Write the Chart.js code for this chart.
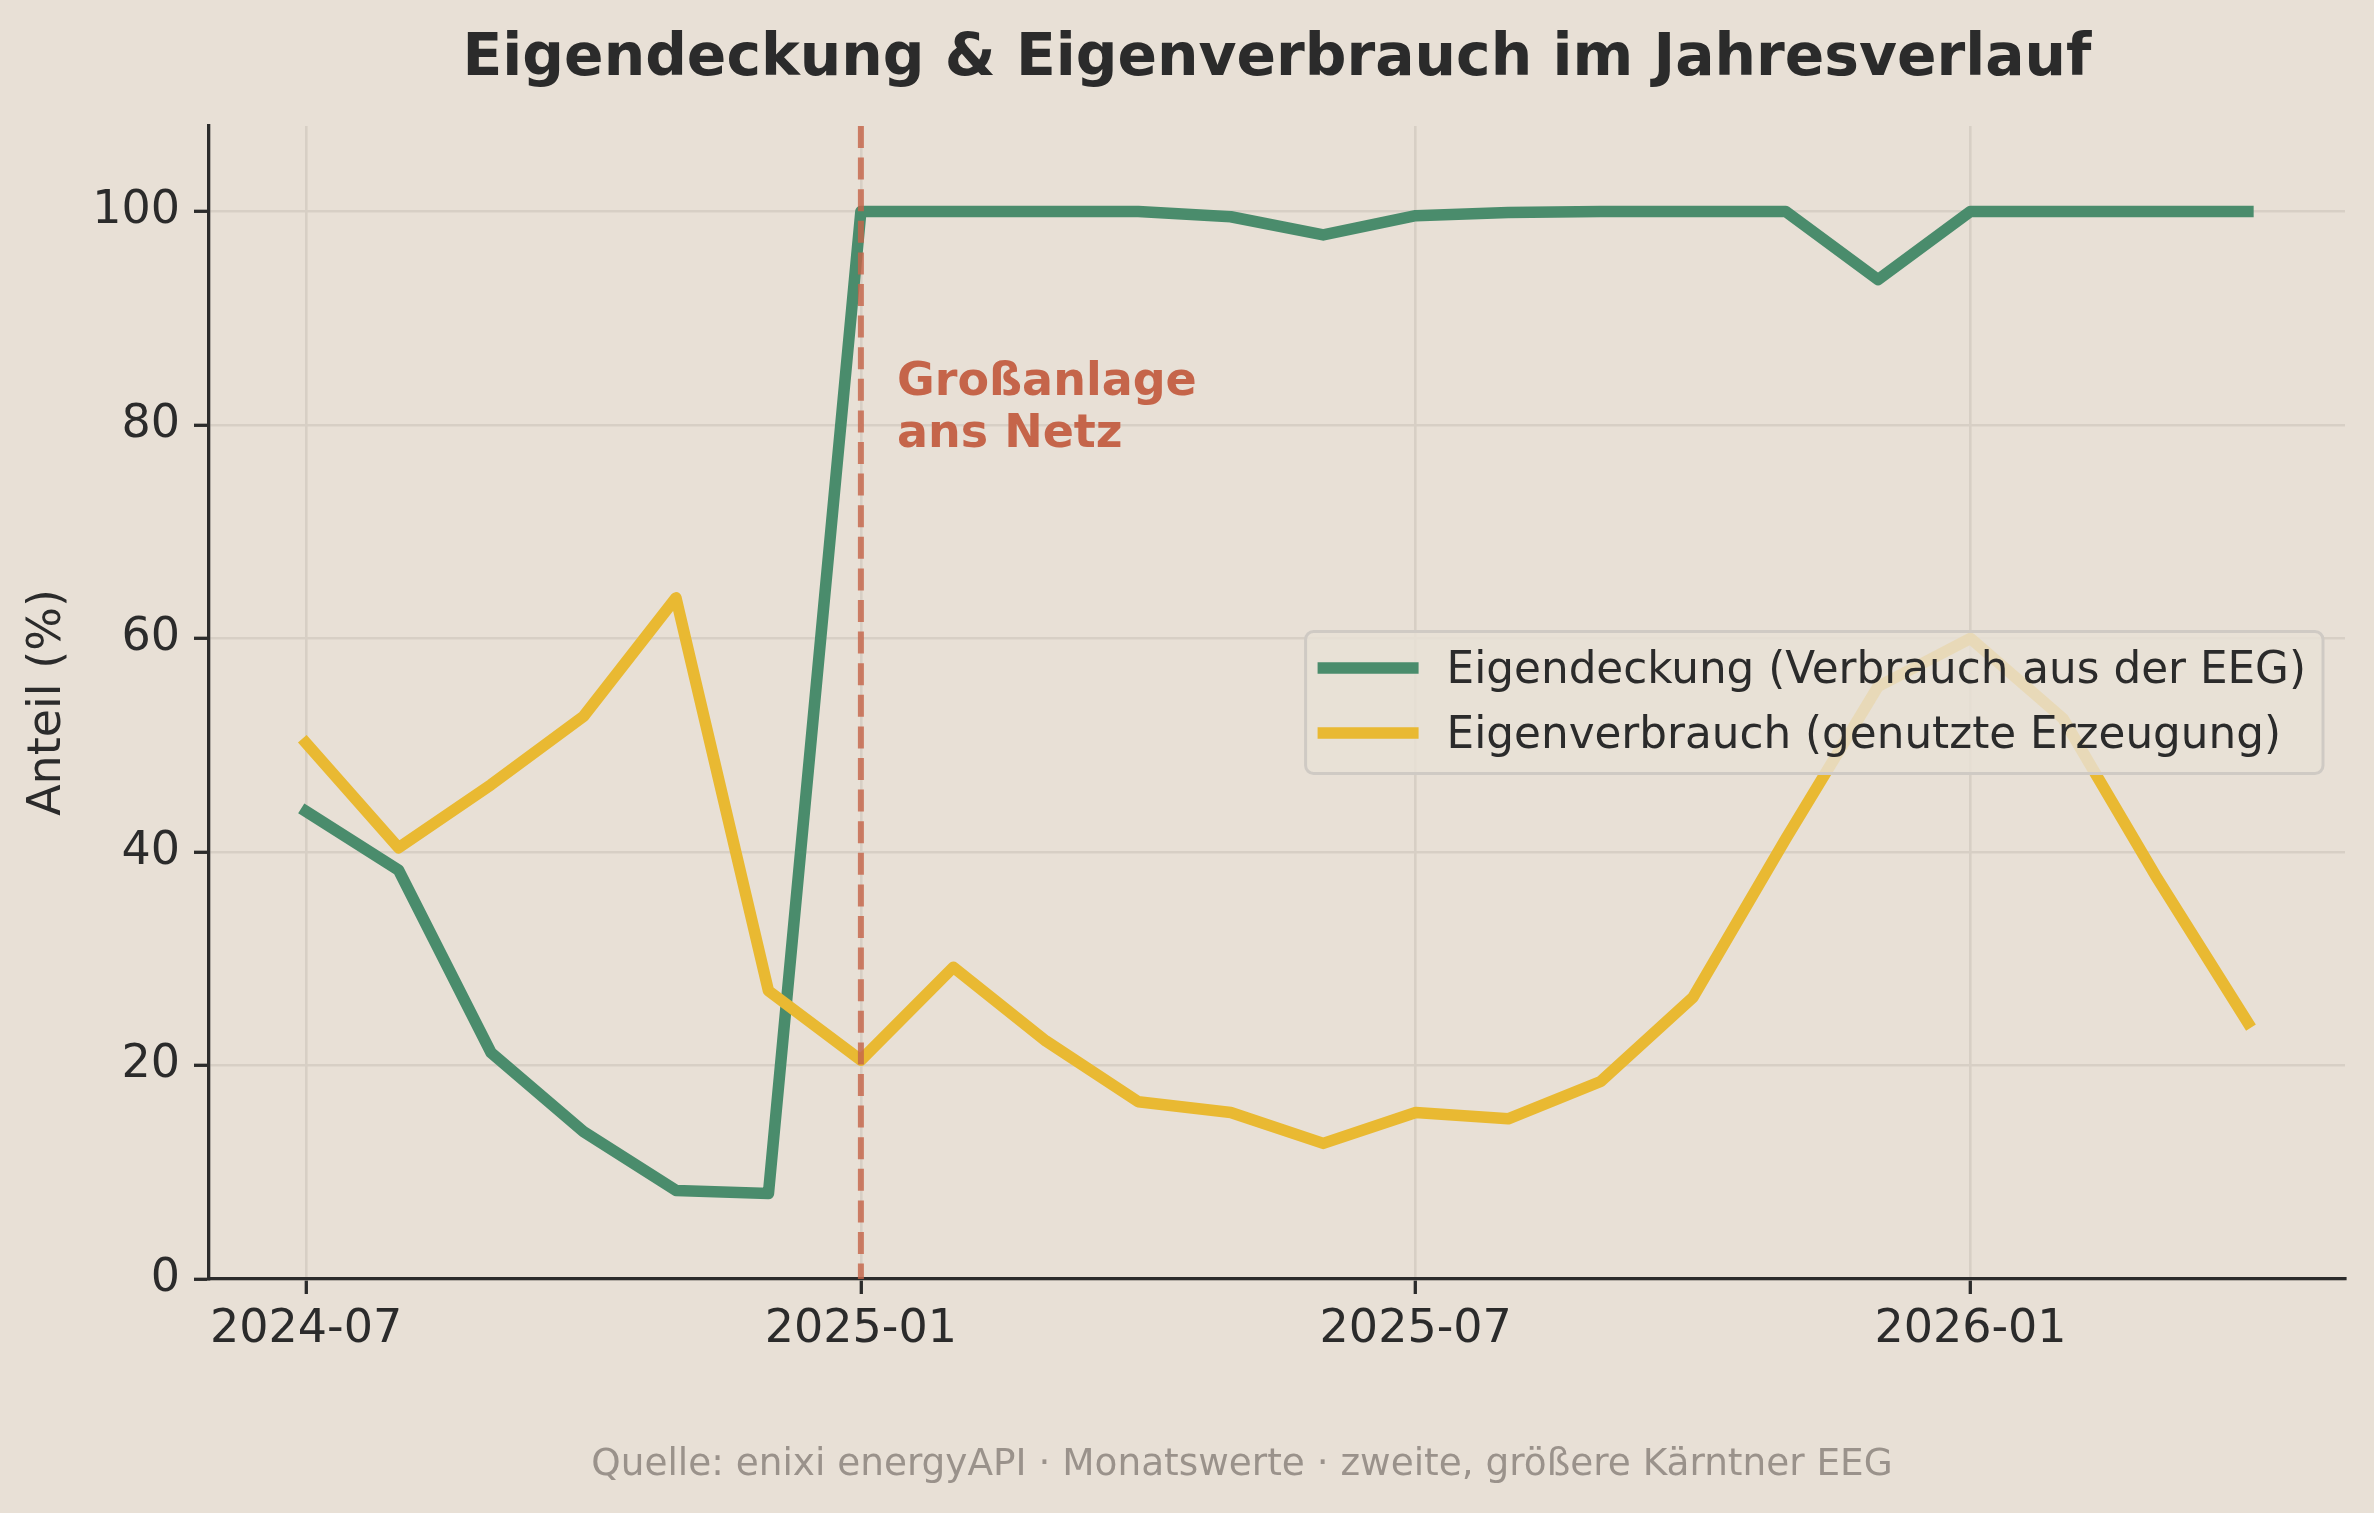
<!DOCTYPE html>
<html>
<head>
<meta charset="utf-8">
<script src="https://cdn.jsdelivr.net/npm/chart.js@4.4.1/dist/chart.umd.min.js"></script>
<style>
html,body{margin:0;padding:0;background:#e8e0d6;}
canvas{display:block;}
</style>
</head>
<body>
<canvas id="c" width="2374" height="1513" style="width:2374px;height:1513px"></canvas>
<script>
// ---------------- data ----------------
const months = ['2024-07','2024-08','2024-09','2024-10','2024-11','2024-12',
  '2025-01','2025-02','2025-03','2025-04','2025-05','2025-06','2025-07','2025-08',
  '2025-09','2025-10','2025-11','2025-12','2026-01','2026-02','2026-03','2026-04'];
const eigendeckung = [43.8, 38.3, 21.2, 13.8, 8.3, 8.0, 100, 100, 100, 100, 99.5, 97.8,
  99.6, 99.9, 100, 100, 100, 93.6, 100, 100, 100, 100];
const eigenverbrauch = [50.2, 40.4, 46.3, 52.7, 63.8, 27.0, 20.5, 29.2, 22.3, 16.6, 15.6, 12.7,
  15.6, 15.0, 18.5, 26.4, 41.2, 55.5, 60.0, 52.5, 37.8, 24.0];
const xTickMonths = ['2024-07','2025-01','2025-07','2026-01'];
const yTickValues = [0, 20, 40, 60, 80, 100];
const seriesNames = ['Eigendeckung (Verbrauch aus der EEG)', 'Eigenverbrauch (genutzte Erzeugung)'];
const eventMonth = '2025-01';
const eventLabel = ['Großanlage', 'ans Netz'];
const titleText = 'Eigendeckung & Eigenverbrauch im Jahresverlauf';
const yAxisTitle = 'Anteil (%)';
const sourceText = 'Quelle: enixi energyAPI · Monatswerte · zweite, größere Kärntner EEG';

// ---------------- style ----------------
const FONT = "'DejaVu Sans'";
const TXT = '#2b2b2b';
const GREEN = '#4a8c6c';
const YELLOW = '#e9b932';
const ACCENT = '#c5654a';
const GRID = '#d7cfc5';

Chart.defaults.font.family = FONT;
Chart.defaults.color = TXT;

const toPts = arr => arr.map((v, i) => ({x: i, y: v}));

const overlay = {
  id: 'overlay',
  afterDatasetsDraw(chart) {
    const {ctx, chartArea: ca, scales: {x, y}} = chart;
    const ev = months.indexOf(eventMonth);
    const px = x.getPixelForValue(ev);
    ctx.save();
    // dashed event line
    ctx.strokeStyle = 'rgba(197,101,74,0.82)';
    ctx.lineWidth = 6;
    ctx.setLineDash([22, 9.6]);
    ctx.beginPath();
    ctx.moveTo(px, ca.top);
    ctx.lineTo(px, ca.bottom);
    ctx.stroke();
    ctx.setLineDash([]);
    // event annotation
    ctx.fillStyle = ACCENT;
    ctx.font = `bold 46px ${FONT}`;
    ctx.textAlign = 'left';
    ctx.textBaseline = 'alphabetic';
    const ax = x.getPixelForValue(ev + 0.39);
    const ay = y.getPixelForValue(82.8);
    eventLabel.forEach((t, i) => ctx.fillText(t, ax, ay + i * 51.7));

    // legend (center right)
    const ds = chart.data.datasets;
    ctx.font = `43.7px ${FONT}`;
    const maxW = Math.max(...ds.map(d => ctx.measureText(d.label).width));
    const boxR = ca.right - 22;
    const boxW = 12 + 101 + 28 + maxW + 17;
    const boxL = boxR - boxW;
    const boxH = 142;
    const cy = (ca.top + ca.bottom) / 2;
    const boxT = cy - boxH / 2;
    ctx.beginPath();
    ctx.roundRect(boxL, boxT, boxW, boxH, 8);
    ctx.fillStyle = 'rgba(232,224,214,0.82)';
    ctx.fill();
    ctx.strokeStyle = '#cfcac4';
    ctx.lineWidth = 3;
    ctx.stroke();
    ds.forEach((d, i) => {
      const ry = cy - 34.5 + i * 65;
      ctx.strokeStyle = d.borderColor;
      ctx.lineWidth = 11.5;
      ctx.lineCap = 'butt';
      ctx.beginPath();
      ctx.moveTo(boxL + 12, ry);
      ctx.lineTo(boxL + 113, ry);
      ctx.stroke();
      ctx.fillStyle = TXT;
      ctx.textBaseline = 'alphabetic';
      ctx.fillText(d.label, boxL + 141, ry + 15.4);
    });
    ctx.restore();
  },
  afterDraw(chart) {
    const {ctx, chartArea: ca} = chart;
    ctx.save();
    ctx.fillStyle = TXT;
    ctx.font = `bold 58.3px ${FONT}`;
    ctx.textAlign = 'center';
    ctx.textBaseline = 'alphabetic';
    ctx.fillText(titleText, (ca.left + ca.right) / 2, 75);
    ctx.fillStyle = '#9a928b';
    ctx.font = `37.4px ${FONT}`;
    ctx.fillText(sourceText, 1242, 1475);
    ctx.restore();
  }
};

new Chart(document.getElementById('c'), {
  type: 'line',
  data: {
    datasets: [
      {label: seriesNames[0], data: toPts(eigendeckung), borderColor: GREEN, backgroundColor: GREEN,
       borderWidth: 11.5, pointRadius: 0, tension: 0, borderCapStyle: 'square', borderJoinStyle: 'round', order: 2},
      {label: seriesNames[1], data: toPts(eigenverbrauch), borderColor: YELLOW, backgroundColor: YELLOW,
       borderWidth: 11.5, pointRadius: 0, tension: 0, borderCapStyle: 'square', borderJoinStyle: 'round', order: 1}
    ]
  },
  options: {
    responsive: false,
    animation: false,
    devicePixelRatio: 1,
    layout: {autoPadding: false, padding: {left: 0, right: 29, top: 126, bottom: 134}},
    plugins: {legend: {display: false}, tooltip: {enabled: false}, title: {display: false}},
    scales: {
      x: {
        type: 'linear', min: -1.05, max: 22.05,
        afterBuildTicks: s => { s.ticks = xTickMonths.map(m => ({value: months.indexOf(m)})); },
        afterFit: s => { s.height = 100; },
        ticks: {callback: v => months[v], font: {size: 46}, color: TXT, padding: 8, autoSkip: false, maxRotation: 0},
        grid: {color: GRID, lineWidth: 2.6, tickLength: 15, tickColor: TXT, tickWidth: 3.3},
        border: {display: true, color: TXT, width: 3.3}
      },
      y: {
        min: 0, max: 108,
        afterBuildTicks: s => { s.ticks = yTickValues.map(v => ({value: v})); },
        afterFit: s => { s.width = 209; },
        ticks: {font: {size: 46}, color: TXT, padding: 14},
        grid: {color: GRID, lineWidth: 2.6, tickLength: 15, tickColor: TXT, tickWidth: 3.3},
        border: {display: true, color: TXT, width: 3.3},
        title: {display: true, text: yAxisTitle, font: {size: 46}, color: TXT, padding: {top: 20, bottom: 0}}
      }
    }
  },
  plugins: [overlay]
});
</script>
</body>
</html>
